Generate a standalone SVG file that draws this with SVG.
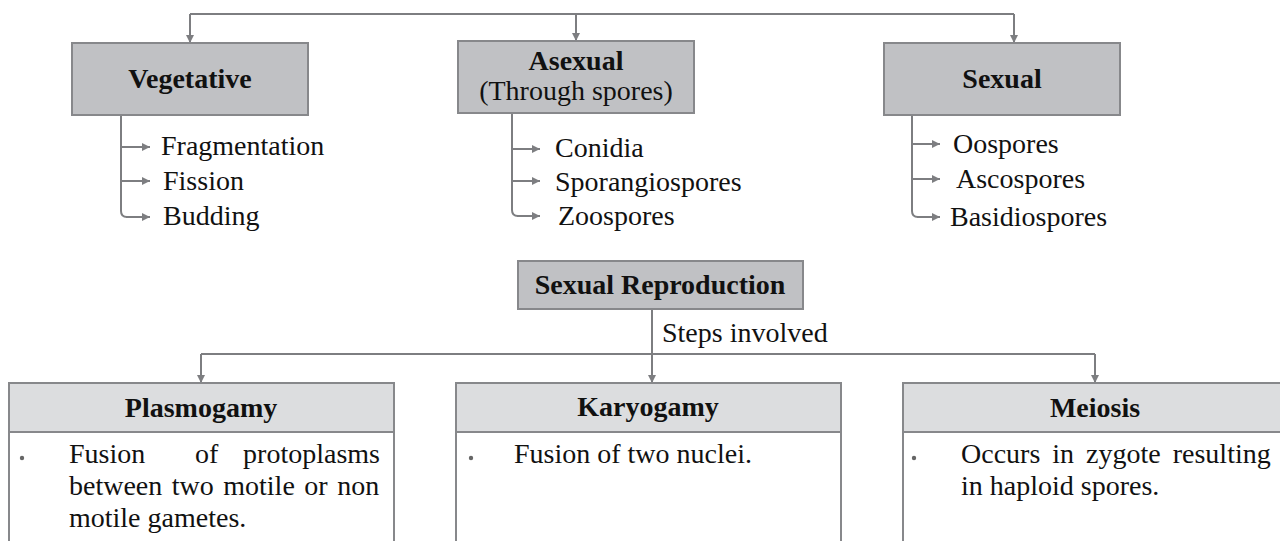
<svg xmlns="http://www.w3.org/2000/svg" width="1280" height="541" viewBox="0 0 1280 541">
<defs>
<marker id="ah" viewBox="0 0 10 10" refX="10" refY="5" markerWidth="10" markerHeight="8" markerUnits="userSpaceOnUse" orient="auto">
<path d="M0,0 L10,5 L0,10 z" fill="#7d7e81"/>
</marker>
<style>
.t{font-family:"Liberation Serif","Times New Roman",serif;font-size:28px;fill:#111;}
.b{font-weight:bold;text-anchor:middle;}
.box{fill:#c0c1c4;stroke:#87888b;stroke-width:2;}
.hdr{fill:#dcdddf;stroke:#87888b;stroke-width:2;}
.body{fill:#ffffff;stroke:#87888b;stroke-width:2;}
.ln{fill:none;stroke:#7d7e81;stroke-width:2;}
.arr{fill:none;stroke:#7d7e81;stroke-width:2;marker-end:url(#ah);}
.dot{fill:#666;}
</style>
</defs>
<rect width="1280" height="541" fill="#ffffff"/>

<g id="connectors">
<path class="ln" d="M190,14 H1014"/>
<path class="arr" d="M190,14 V43"/>
<path class="arr" d="M576,14 V41"/>
<path class="arr" d="M1014,14 V43"/>

<path class="ln" d="M121,115 V211 Q121,217 127,217"/>
<path class="arr" d="M121,147 H150"/>
<path class="arr" d="M121,181 H150"/>
<path class="arr" d="M126,217 H150"/>

<path class="ln" d="M512,113 V210 Q512,216 518,216"/>
<path class="arr" d="M512,149 H540"/>
<path class="arr" d="M512,181 H540"/>
<path class="arr" d="M517,216 H540"/>

<path class="ln" d="M912,115 V211 Q912,217 918,217"/>
<path class="arr" d="M912,144 H940"/>
<path class="arr" d="M912,179 H940"/>
<path class="arr" d="M917,217 H940"/>

<path class="arr" d="M652,309 V383"/>
<path class="ln" d="M201,354 H1095"/>
<path class="arr" d="M201,354 V383"/>
<path class="arr" d="M1095,354 V383"/>
</g>

<g id="vegetative">
<rect class="box" x="72" y="43" width="236" height="72"/>
<text class="t b" x="190" y="88">Vegetative</text>
</g>
<g id="asexual">
<rect class="box" x="458" y="41" width="236" height="72"/>
<text class="t b" x="576" y="70">Asexual</text>
<text class="t" x="576" y="100" text-anchor="middle">(Through spores)</text>
</g>
<g id="sexual">
<rect class="box" x="884" y="43" width="236" height="72"/>
<text class="t b" x="1002" y="88">Sexual</text>
</g>

<g id="vegetative-items">
<text class="t" x="161" y="155">Fragmentation</text>
<text class="t" x="163" y="190">Fission</text>
<text class="t" x="163" y="225">Budding</text>
</g>
<g id="asexual-items">
<text class="t" x="555" y="157">Conidia</text>
<text class="t" x="555" y="191">Sporangiospores</text>
<text class="t" x="558" y="225">Zoospores</text>
</g>
<g id="sexual-items">
<text class="t" x="953" y="153">Oospores</text>
<text class="t" x="956" y="188">Ascospores</text>
<text class="t" x="950" y="226">Basidiospores</text>
</g>

<g id="sexual-reproduction">
<rect class="box" x="518" y="261" width="285" height="48"/>
<text class="t b" x="660" y="294">Sexual Reproduction</text>
<text class="t" x="662" y="342">Steps involved</text>
</g>

<g id="plasmogamy">
<rect class="body" x="9" y="383" width="385" height="170"/>
<rect class="hdr" x="9" y="383" width="385" height="49"/>
<text class="t b" x="201" y="417">Plasmogamy</text>
<circle class="dot" cx="22" cy="458" r="2.2"/>
<text class="t" y="463"><tspan x="69">Fusion</tspan><tspan x="195">of</tspan><tspan x="380" text-anchor="end">protoplasms</tspan></text>
<text class="t" x="69" y="495" word-spacing="2.5">between two motile or non</text>
<text class="t" x="69" y="527">motile gametes.</text>
</g>

<g id="karyogamy">
<rect class="body" x="456" y="383" width="385" height="170"/>
<rect class="hdr" x="456" y="383" width="385" height="49"/>
<text class="t b" x="648" y="416">Karyogamy</text>
<circle class="dot" cx="471" cy="458" r="2.2"/>
<text class="t" x="514" y="463">Fusion of two nuclei.</text>
</g>

<g id="meiosis">
<rect class="body" x="903" y="383" width="385" height="170"/>
<rect class="hdr" x="903" y="383" width="385" height="49"/>
<text class="t b" x="1095" y="417">Meiosis</text>
<circle class="dot" cx="914" cy="458" r="2.2"/>
<text class="t" x="961" y="463" word-spacing="5">Occurs in zygote resulting</text>
<text class="t" x="961" y="495">in haploid spores.</text>
</g>
</svg>
